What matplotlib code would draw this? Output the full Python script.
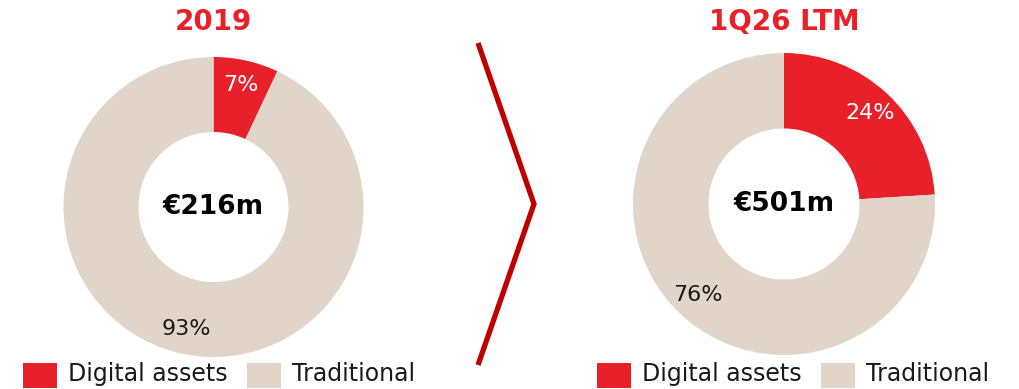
import matplotlib
matplotlib.use("Agg")
import matplotlib.pyplot as plt
from matplotlib.patches import Rectangle

plt.rcParams['font.family'] = ['DejaVu Sans']

categories = ["Digital assets", "Traditional"]
periods = ["2019", "1Q26 LTM"]
totals = ["€216m", "€501m"]
shares_2019 = [7, 93]
shares_1q26 = [24, 76]

RED = "#E8202A"
BEIGE = "#E0D5C8"
CHEVRON = "#C00000"

W, H = 1020, 389
fig = plt.figure(figsize=(W / 100, H / 100), dpi=100)
ax = fig.add_axes([0, 0, 1, 1])
ax.set_xlim(0, W)
ax.set_ylim(0, H)
ax.set_aspect("equal")
ax.axis("off")


def donut(cx, cy, r, shares, title, total, legend_x):
    wedges, texts, autotexts = ax.pie(
        shares, colors=[RED, BEIGE], startangle=90, counterclock=False,
        radius=r, center=(cx, cy), autopct=lambda p: f"{p:.0f}%",
        pctdistance=0.83, wedgeprops=dict(width=r * 0.5, linewidth=0),
        textprops=dict(fontsize=16), frame=True)
    autotexts[0].set_color("white")
    autotexts[1].set_color("#1a1a1a")
    ax.text(cx, H - 22, title, ha="center", va="center", color=RED,
            fontsize=20, fontweight="bold")
    ax.text(cx, cy, total, ha="center", va="center", color="black",
            fontsize=19, fontweight="bold")
    # legend row under the donut
    x = legend_x
    for col, name, tw in zip([RED, BEIGE], categories, [224, 0]):
        ax.add_patch(Rectangle((x, H - 388), 34, 25, color=col, lw=0))
        ax.text(x + 45, H - 374, name, ha="left", va="center",
                fontsize=17, color="#1a1a1a")
        x += tw


donut(213.5, H - 207, 150, shares_2019, periods[0], totals[0], 23)
donut(784, H - 204, 151, shares_1q26, periods[1], totals[1], 597)

ax.set_xlim(0, W)
ax.set_ylim(0, H)
ax.axis("off")

# chevron between the two donuts
ax.plot([478, 534, 478], [H - 43, H - 204, H - 365], color=CHEVRON,
        lw=3.8, solid_joinstyle="miter", solid_capstyle="butt")

fig.savefig("out.png", dpi=100)
